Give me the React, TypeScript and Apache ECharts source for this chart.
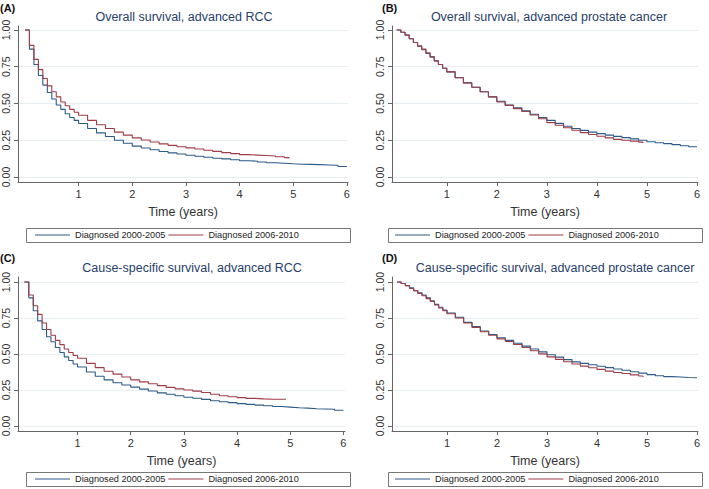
import React, { useEffect, useRef } from 'react';
import * as echarts from 'echarts';

// Time points (years)
const T_2000 = [0, 0.083, 0.167, 0.25, 0.333, 0.417, 0.5, 0.583, 0.667, 0.75, 0.833, 0.917, 1, 1.167, 1.333, 1.5, 1.667, 1.833, 2, 2.167, 2.333, 2.5, 2.667, 2.833, 3, 3.167, 3.333, 3.5, 3.667, 3.833, 4, 4.167, 4.333, 4.5, 4.667, 4.833, 5, 5.167, 5.333, 5.5, 5.667, 5.833, 6];
const T_2006 = [0, 0.083, 0.167, 0.25, 0.333, 0.417, 0.5, 0.583, 0.667, 0.75, 0.833, 0.917, 1, 1.167, 1.333, 1.5, 1.667, 1.833, 2, 2.167, 2.333, 2.5, 2.667, 2.833, 3, 3.167, 3.333, 3.5, 3.667, 3.833, 4, 4.167, 4.333, 4.5, 4.667, 4.833, 4.92];

// (A) Overall survival, advanced RCC
const A_2000 = [1, 0.87, 0.765, 0.69, 0.625, 0.575, 0.53, 0.49, 0.46, 0.43, 0.405, 0.385, 0.364, 0.33, 0.3, 0.275, 0.25, 0.23, 0.21, 0.197, 0.185, 0.173, 0.164, 0.156, 0.148, 0.141, 0.134, 0.128, 0.123, 0.117, 0.111, 0.107, 0.102, 0.097, 0.094, 0.09, 0.087, 0.086, 0.084, 0.082, 0.08, 0.071, 0.07];
const A_2006 = [1, 0.895, 0.8, 0.73, 0.67, 0.62, 0.58, 0.545, 0.51, 0.485, 0.46, 0.44, 0.42, 0.385, 0.355, 0.33, 0.305, 0.285, 0.266, 0.252, 0.238, 0.225, 0.215, 0.206, 0.198, 0.19, 0.182, 0.174, 0.166, 0.159, 0.152, 0.149, 0.146, 0.143, 0.138, 0.132, 0.125];
// (B) Overall survival, advanced prostate cancer
const B_2000 = [1, 0.985, 0.965, 0.94, 0.915, 0.89, 0.865, 0.84, 0.815, 0.79, 0.765, 0.74, 0.715, 0.675, 0.64, 0.61, 0.58, 0.545, 0.515, 0.49, 0.47, 0.45, 0.427, 0.405, 0.385, 0.365, 0.345, 0.33, 0.317, 0.305, 0.295, 0.285, 0.276, 0.268, 0.259, 0.25, 0.24, 0.233, 0.227, 0.22, 0.213, 0.206, 0.205];
const B_2006 = [1, 0.985, 0.965, 0.94, 0.915, 0.89, 0.87, 0.845, 0.82, 0.79, 0.765, 0.74, 0.715, 0.675, 0.64, 0.61, 0.58, 0.545, 0.51, 0.487, 0.465, 0.445, 0.422, 0.396, 0.37, 0.352, 0.335, 0.318, 0.302, 0.289, 0.277, 0.266, 0.256, 0.25, 0.244, 0.237, 0.232];
// (C) Cause-specific survival, advanced RCC
const C_2000 = [1, 0.89, 0.8, 0.73, 0.67, 0.62, 0.585, 0.545, 0.51, 0.48, 0.455, 0.43, 0.41, 0.375, 0.345, 0.32, 0.3, 0.285, 0.27, 0.256, 0.243, 0.23, 0.22, 0.21, 0.2, 0.193, 0.185, 0.175, 0.168, 0.162, 0.155, 0.15, 0.145, 0.14, 0.135, 0.131, 0.127, 0.124, 0.12, 0.118, 0.116, 0.109, 0.107];
const C_2006 = [1, 0.91, 0.835, 0.775, 0.715, 0.67, 0.63, 0.595, 0.565, 0.535, 0.51, 0.49, 0.47, 0.435, 0.405, 0.38, 0.36, 0.34, 0.32, 0.306, 0.293, 0.28, 0.268, 0.258, 0.25, 0.242, 0.232, 0.22, 0.21, 0.203, 0.197, 0.192, 0.188, 0.186, 0.186, 0.186, 0.186];
// (D) Cause-specific survival, advanced prostate cancer
const D_2000 = [1, 0.99, 0.975, 0.96, 0.94, 0.925, 0.91, 0.89, 0.87, 0.845, 0.825, 0.805, 0.785, 0.755, 0.72, 0.69, 0.66, 0.635, 0.613, 0.595, 0.575, 0.555, 0.535, 0.515, 0.495, 0.478, 0.461, 0.445, 0.435, 0.425, 0.415, 0.405, 0.396, 0.387, 0.377, 0.367, 0.357, 0.349, 0.343, 0.34, 0.337, 0.335, 0.335];
const D_2006 = [1, 0.99, 0.975, 0.955, 0.94, 0.92, 0.905, 0.885, 0.865, 0.84, 0.82, 0.8, 0.78, 0.75, 0.715, 0.685, 0.655, 0.63, 0.605, 0.587, 0.566, 0.545, 0.523, 0.501, 0.48, 0.463, 0.446, 0.43, 0.416, 0.404, 0.393, 0.381, 0.371, 0.365, 0.355, 0.347, 0.34];

const X_TICKS = [1, 2, 3, 4, 5, 6];
const Y_TICKS = [0, 0.25, 0.5, 0.75, 1];
const SERIES_NAMES = ['Diagnosed 2000-2005', 'Diagnosed 2006-2010'];
const TITLES = [
  'Overall survival, advanced RCC',
  'Overall survival, advanced prostate cancer',
  'Cause-specific survival, advanced RCC',
  'Cause-specific survival, advanced prostate cancer',
];
const PANEL_LABELS = ['(A)', '(B)', '(C)', '(D)'];
const VALUES_2000 = [A_2000, B_2000, C_2000, D_2000];
const VALUES_2006 = [A_2006, B_2006, C_2006, D_2006];

const FONT = '"Liberation Sans", Arial, sans-serif';
const BLUE = '#2c5b88';
const RED = '#a03c47';
const AXIS = '#666666';

const LAYOUT = [
  { grid: { left: 17, top: 26, width: 331, height: 156 }, x: [-0.13, 6.02], y: [-0.034, 1.027], title: [184, 17], label: [0, 8], box: [26, 228, 324, 14], leg: 35 },
  { grid: { left: 392, top: 26, width: 306, height: 156 }, x: [-0.094, 6.02], y: [-0.034, 1.027], title: [549, 17], label: [382, 8], box: [388, 228, 314, 14], leg: 395 },
  { grid: { left: 17, top: 277, width: 328, height: 154 }, x: [-0.12, 6.03], y: [-0.035, 1.035], title: [192, 268], label: [0, 258], box: [26, 472, 324, 14], leg: 35 },
  { grid: { left: 392, top: 277, width: 306, height: 154 }, x: [-0.1, 6.02], y: [-0.035, 1.035], title: [555, 268], label: [382, 258], box: [388, 472, 314, 14], leg: 395 },
];

function pairs(t: number[], v: number[]) {
  return v.map((val, i) => [t[i], val]);
}

export default function App() {
  const ref = useRef<HTMLDivElement>(null);
  useEffect(() => {
    if (!ref.current) return;
    const chart = echarts.init(ref.current, undefined, { renderer: 'svg' });
    const grids: any[] = [];
    const xAxes: any[] = [];
    const yAxes: any[] = [];
    const series: any[] = [];
    const legends: any[] = [];
    const graphics: any[] = [];
    LAYOUT.forEach((p, i) => {
      grids.push({ ...p.grid, containLabel: false });
      xAxes.push({
        type: 'value', gridIndex: i, min: p.x[0], max: p.x[1],
        axisLine: { onZero: false, lineStyle: { color: AXIS, width: 1 } },
        axisTick: { customValues: X_TICKS, length: 4, lineStyle: { color: AXIS } },
        axisLabel: { customValues: X_TICKS, fontSize: 11, color: '#333', margin: 6, fontFamily: FONT },
        splitLine: { show: false },
        name: 'Time (years)', nameLocation: 'middle', nameGap: 23,
        nameTextStyle: { fontSize: 12.5, color: '#333', fontFamily: FONT, fontWeight: 400 },
      });
      yAxes.push({
        type: 'value', gridIndex: i, min: p.y[0], max: p.y[1],
        axisLine: { show: true, onZero: false, lineStyle: { color: AXIS, width: 1 } },
        axisTick: { show: true, customValues: Y_TICKS, length: 4, lineStyle: { color: AXIS } },
        axisLabel: { customValues: Y_TICKS, rotate: 90, fontSize: 10.5, color: '#333', margin: 7, fontFamily: FONT, formatter: (v: number) => v.toFixed(2) },
        splitLine: { show: true, lineStyle: { color: '#e6eef1', width: 1 } },
      });
      series.push({
        type: 'line', name: SERIES_NAMES[0], xAxisIndex: i, yAxisIndex: i, step: 'end',
        data: pairs(T_2000, VALUES_2000[i]), symbol: 'none', showSymbol: false,
        lineStyle: { color: BLUE, width: 1.1 }, itemStyle: { color: BLUE },
      });
      series.push({
        type: 'line', name: SERIES_NAMES[1], xAxisIndex: i, yAxisIndex: i, step: 'end',
        data: pairs(T_2006, VALUES_2006[i]), symbol: 'none', showSymbol: false,
        lineStyle: { color: RED, width: 1.1 }, itemStyle: { color: RED },
      });
      legends.push({
        left: p.leg, top: p.box[1] + 1, data: SERIES_NAMES, icon: 'rect', itemWidth: 35, itemHeight: 1.2,
        itemGap: 3, selectedMode: false, padding: 0,
        textStyle: { fontSize: 9.2, color: '#222', fontFamily: FONT, lineHeight: 12 },
      });
      graphics.push({
        type: 'rect', shape: { x: p.box[0] + 0.5, y: p.box[1] + 0.5, width: p.box[2], height: p.box[3] },
        style: { fill: 'none', stroke: '#777', lineWidth: 1 }, silent: true,
      });
      graphics.push({
        type: 'text', x: p.title[0], y: p.title[1],
        style: { text: TITLES[i], fontSize: 12.5, fill: '#27406a', fontFamily: FONT, textAlign: 'center', textVerticalAlign: 'middle' },
      });
      graphics.push({
        type: 'text', x: p.label[0], y: p.label[1],
        style: { text: PANEL_LABELS[i], fontSize: 11, fontWeight: 'bold', fill: '#111', fontFamily: FONT, textAlign: 'left', textVerticalAlign: 'middle' },
      });
    });
    chart.setOption({
      animation: false,
      backgroundColor: '#ffffff',
      grid: grids,
      xAxis: xAxes,
      yAxis: yAxes,
      series,
      legend: legends,
      graphic: graphics,
    });
    return () => chart.dispose();
  }, []);
  return <div ref={ref} style={{ position: 'fixed', left: 0, top: 0, width: 709, height: 489 }} />;
}
